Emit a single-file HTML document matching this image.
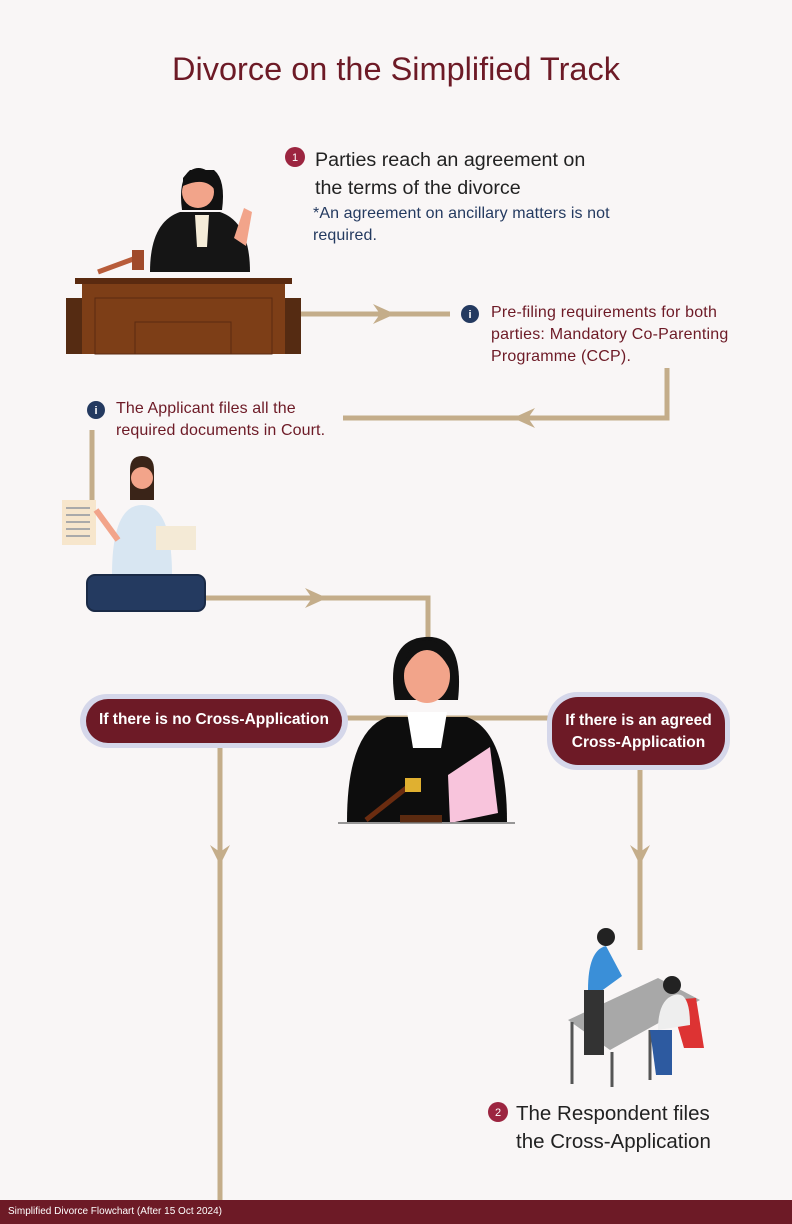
<!DOCTYPE html>
<html><head><meta charset="utf-8"><style>
body{margin:0;width:792px;height:1224px;background:#f9f6f6;font-family:"Liberation Sans",sans-serif;position:relative;overflow:hidden}
.t{position:absolute;margin:0;white-space:nowrap}
</style></head><body>
<svg width="792" height="1224" style="position:absolute;left:0;top:0">
<g stroke="#c4ad8a" stroke-width="5" fill="none">
<path d="M300 314H450"/>
<path d="M667 368V418H343"/>
<path d="M92 430V500"/>
<path d="M205 598H428V640"/>
<path d="M340 718H552"/>
<path d="M220 745V1200"/>
<path d="M640 765V950"/>
</g>
<g fill="#c4ad8a">
<path d="M373 304L395 314L373 324L380 314Z"/>
<path d="M535 408L513 418L535 428L528 418Z"/>
<path d="M305 588L327 598L305 608L312 598Z"/>
<path d="M210 845L220 865L230 845L220 852Z"/>
<path d="M630 845L640 865L650 845L640 852Z"/>
</g>
<path d="M190 170q-12 10-8 40l40 0q4-30-8-40z" fill="#111"/>
<circle cx="198" cy="192" r="16" fill="#f2a48a"/>
<path d="M183 178q15-20 32 0l0 12q-10-14-32-4z" fill="#111"/>
<path d="M150 272q0-50 30-60l40 0q30 10 30 60z" fill="#151515"/>
<path d="M195 215h14l-2 32h-10z" fill="#f5ecd8"/>
<path d="M234 238l10-30 8 4-6 34z" fill="#f2a48a"/>
<path d="M98 272l38-14" stroke="#b85c3a" stroke-width="5"/>
<rect x="132" y="250" width="12" height="20" fill="#a04a2a"/>
<rect x="66" y="298" width="235" height="56" fill="#552b12"/>
<rect x="75" y="278" width="217" height="6" fill="#5a2a10"/>
<rect x="82" y="284" width="203" height="70" fill="#7d3e17"/>
<rect x="95" y="298" width="177" height="56" fill="none" stroke="#5a2a10"/>
<rect x="135" y="322" width="96" height="32" fill="none" stroke="#5a2a10"/>
<rect x="62" y="500" width="34" height="45" fill="#f7e6cc"/>
<g stroke="#aaa" stroke-width="2"><path d="M66 508h24M66 515h24M66 522h24M66 529h24M66 536h24"/></g>
<path d="M130 470q0-14 12-14t12 14v30h-24z" fill="#3a2418"/>
<circle cx="142" cy="478" r="11" fill="#f2a48a"/>
<path d="M112 575q0-70 30-70t30 70z" fill="#d8e6f2"/>
<rect x="156" y="526" width="40" height="24" fill="#f4ead6"/>
<path d="M96 510l22 30" stroke="#f2a48a" stroke-width="6"/>
<rect x="87" y="575" width="118" height="36" rx="8" fill="#243a60" stroke="#1a2a46" stroke-width="2"/>
<path d="M395 700q-10-60 30-63t33 63z" fill="#111"/>
<ellipse cx="427" cy="676" rx="23" ry="27" fill="#f2a48a"/>
<path d="M404 670q4-30 23-30t23 30q-10-20-23-20t-23 20z" fill="#111"/>
<path d="M347 822q0-90 40-105l80 0q40 15 40 105z" fill="#0d0d0d"/>
<path d="M407 712h40l-6 36h-28z" fill="#fff"/>
<path d="M448 775l42-28 8 66-48 10z" fill="#f8c4dc"/>
<path d="M366 820l48-38" stroke="#6a2c10" stroke-width="5"/>
<rect x="405" y="778" width="16" height="14" fill="#e0b030"/>
<rect x="400" y="815" width="42" height="8" fill="#5a2a10"/>
<path d="M338 823H515" stroke="#777" stroke-width="1.5"/>
<rect x="80" y="694" width="268" height="54" rx="27" fill="#d5d7ea"/>
<rect x="86" y="699" width="256" height="44" rx="22" fill="#6d1a26"/>
<rect x="547" y="692" width="183" height="78" rx="30" fill="#d5d7ea"/>
<rect x="552" y="697" width="173" height="68" rx="26" fill="#6d1a26"/>
<path d="M568 1020l90-42 42 22-90 50z" fill="#a8a8a8"/>
<path d="M572 1022v62M612 1052v35M650 1030v50" stroke="#555" stroke-width="3"/>
<circle cx="606" cy="937" r="9" fill="#222"/>
<path d="M588 990q0-40 18-44l16 30-22 16z" fill="#3a8fd8"/>
<path d="M584 990h20v65h-20z" fill="#333"/>
<path d="M670 1000l26-2 8 50h-20z" fill="#d33"/>
<circle cx="672" cy="985" r="9" fill="#222"/>
<path d="M658 1030q0-30 16-35t16 30z" fill="#eee"/>
<path d="M650 1030h22v45h-16z" fill="#2d5aa0"/>
<circle cx="295" cy="157" r="10" fill="#9c2540"/>
<text x="295" y="161" font-size="11" fill="#fff" text-anchor="middle" font-family="Liberation Sans">1</text>
<circle cx="498" cy="1112" r="10" fill="#9c2540"/>
<text x="498" y="1116" font-size="11" fill="#fff" text-anchor="middle" font-family="Liberation Sans">2</text>
<circle cx="470" cy="314" r="9" fill="#243a60"/>
<text x="470" y="318" font-size="11" font-weight="bold" fill="#fff" text-anchor="middle" font-family="Liberation Sans">i</text>
<circle cx="96" cy="410" r="9" fill="#243a60"/>
<text x="96" y="414" font-size="11" font-weight="bold" fill="#fff" text-anchor="middle" font-family="Liberation Sans">i</text>
<rect x="0" y="1200" width="792" height="24" fill="#6d1a26"/>
</svg>
<div class="t" style="left:0;width:792px;top:51px;text-align:center;font-size:32.5px;color:#6d1a26">Divorce on the Simplified Track</div>
<div class="t" style="left:315px;top:146px;font-size:19.7px;line-height:28px;color:#222">Parties reach an agreement on<br>the terms of the divorce</div>
<div class="t" style="left:313px;top:203px;font-size:16px;line-height:22px;color:#243a60;letter-spacing:0.1px">*An agreement on ancillary matters is not<br>required.</div>
<div class="t" style="left:491px;top:302px;font-size:16px;line-height:22px;color:#6d1a26;letter-spacing:0.2px">Pre-filing requirements for both<br>parties: Mandatory Co-Parenting<br>Programme (CCP).</div>
<div class="t" style="left:116px;top:398px;font-size:16px;line-height:22px;color:#6d1a26;letter-spacing:0.1px">The Applicant files all the<br>required documents in Court.</div>
<div class="t" style="left:86px;top:711px;width:256px;text-align:center;font-size:15.5px;font-weight:bold;color:#fff">If there is no Cross-Application</div>
<div class="t" style="left:552px;top:710px;width:173px;text-align:center;font-size:15.5px;line-height:22px;font-weight:bold;color:#fff">If there is an agreed<br>Cross-Application</div>
<div class="t" style="left:516px;top:1100px;font-size:20.5px;line-height:28px;color:#222">The Respondent files<br>the Cross-Application</div>
<div class="t" style="left:8px;top:1206px;font-size:10px;color:#fff">Simplified Divorce Flowchart (After 15 Oct 2024)</div>
</body></html>
